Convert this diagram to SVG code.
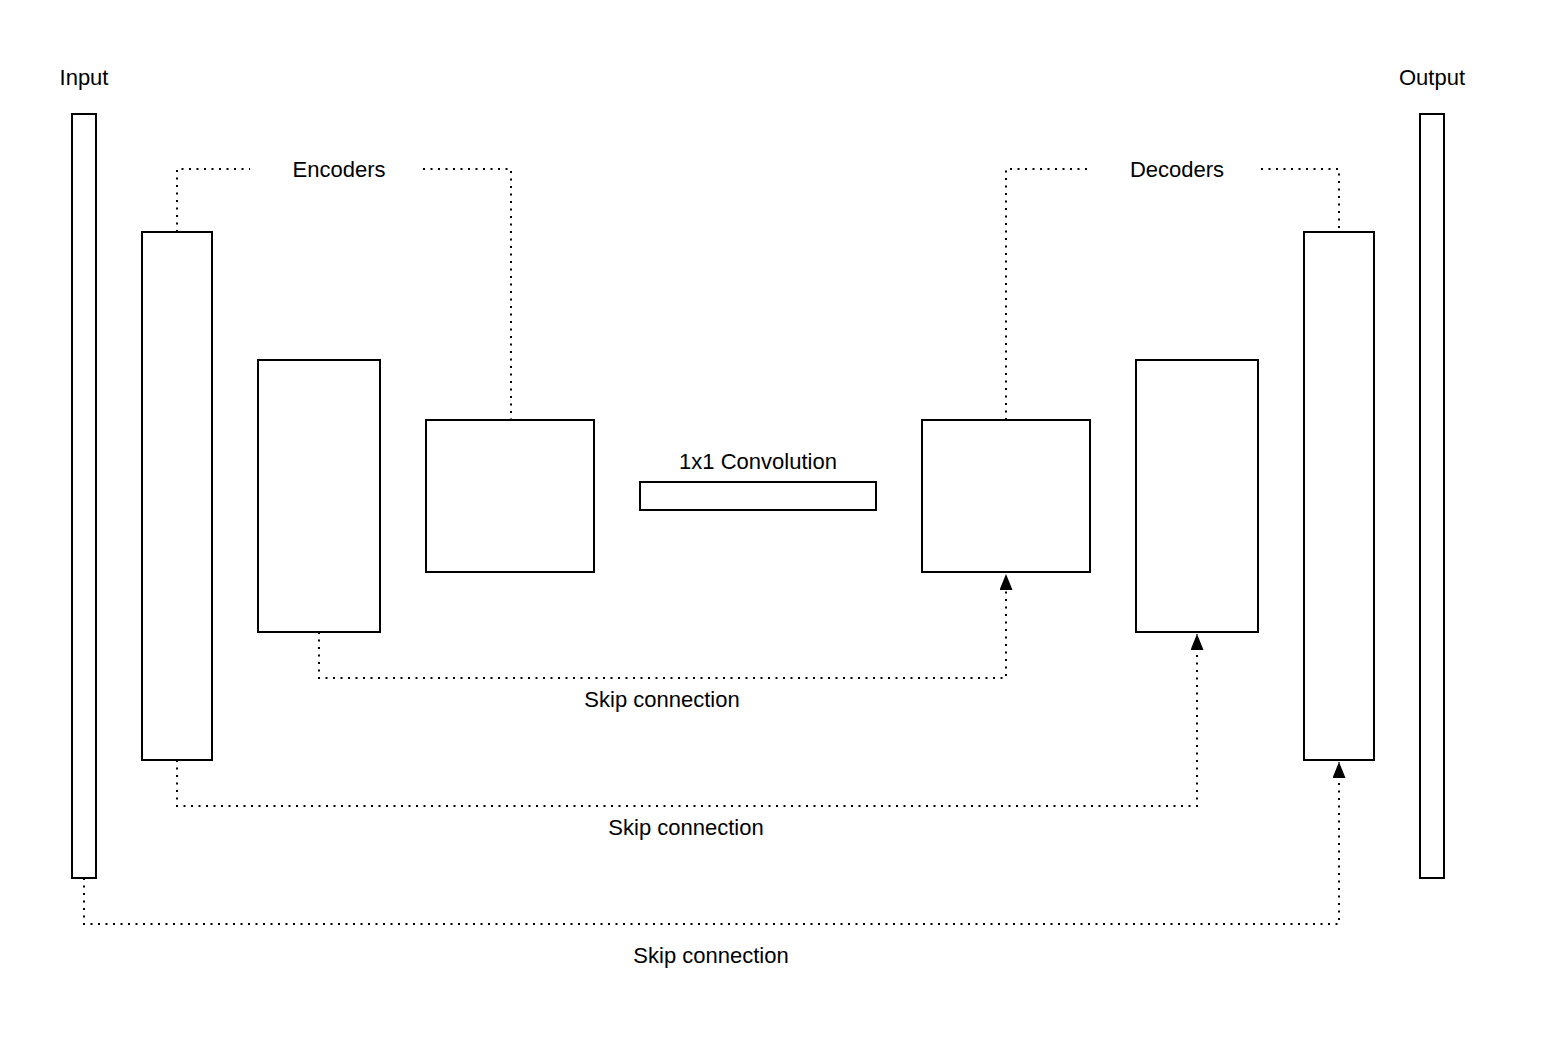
<svg xmlns="http://www.w3.org/2000/svg" width="1544" height="1054" viewBox="0 0 1544 1054">
<style>
.box{fill:#fff;stroke:#000;stroke-width:2}
.dot{fill:none;stroke:#000;stroke-width:2;stroke-dasharray:2 5.5}
.lbl{font-family:"Liberation Sans",Arial,sans-serif;font-size:22px;fill:#000;text-anchor:middle}
</style>
<defs>
<marker id="arr" viewBox="0 0 16 13" refX="16" refY="6.5" markerWidth="16" markerHeight="13" markerUnits="userSpaceOnUse" orient="auto">
<path d="M0,0 L16,6.5 L0,13 Z" fill="#000"/>
</marker>
</defs>
<rect width="1544" height="1054" fill="#fff"/>
<g id="connectors">
<path class="dot" d="M177,232 V169 H250"/>
<path class="dot" d="M423,169 H511 V420"/>
<path class="dot" d="M1006,420 V169 H1092"/>
<path class="dot" d="M1261,169 H1339 V232"/>
<path class="dot" d="M319,632 V678 H1006 V574" marker-end="url(#arr)"/>
<path class="dot" d="M177,760 V806 H1197 V634" marker-end="url(#arr)"/>
<path class="dot" d="M84,878 V924 H1339 V762" marker-end="url(#arr)"/>
</g>
<g id="input"><rect class="box" x="72" y="114" width="24" height="764"/><text class="lbl" x="84" y="85">Input</text></g>
<g id="enc1"><rect class="box" x="142" y="232" width="70" height="528"/></g>
<g id="enc2"><rect class="box" x="258" y="360" width="122" height="272"/></g>
<g id="enc3"><rect class="box" x="426" y="420" width="168" height="152"/></g>
<g id="encoders-label"><text class="lbl" x="339" y="177">Encoders</text></g>
<g id="conv"><rect class="box" x="640" y="482" width="236" height="28"/><text class="lbl" x="758" y="469">1x1 Convolution</text></g>
<g id="dec3"><rect class="box" x="922" y="420" width="168" height="152"/></g>
<g id="dec2"><rect class="box" x="1136" y="360" width="122" height="272"/></g>
<g id="dec1"><rect class="box" x="1304" y="232" width="70" height="528"/></g>
<g id="decoders-label"><text class="lbl" x="1177" y="177">Decoders</text></g>
<g id="output"><rect class="box" x="1420" y="114" width="24" height="764"/><text class="lbl" x="1432" y="85">Output</text></g>
<g id="skip-labels">
<text class="lbl" x="662" y="707">Skip connection</text>
<text class="lbl" x="686" y="835">Skip connection</text>
<text class="lbl" x="711" y="963">Skip connection</text>
</g>
</svg>
